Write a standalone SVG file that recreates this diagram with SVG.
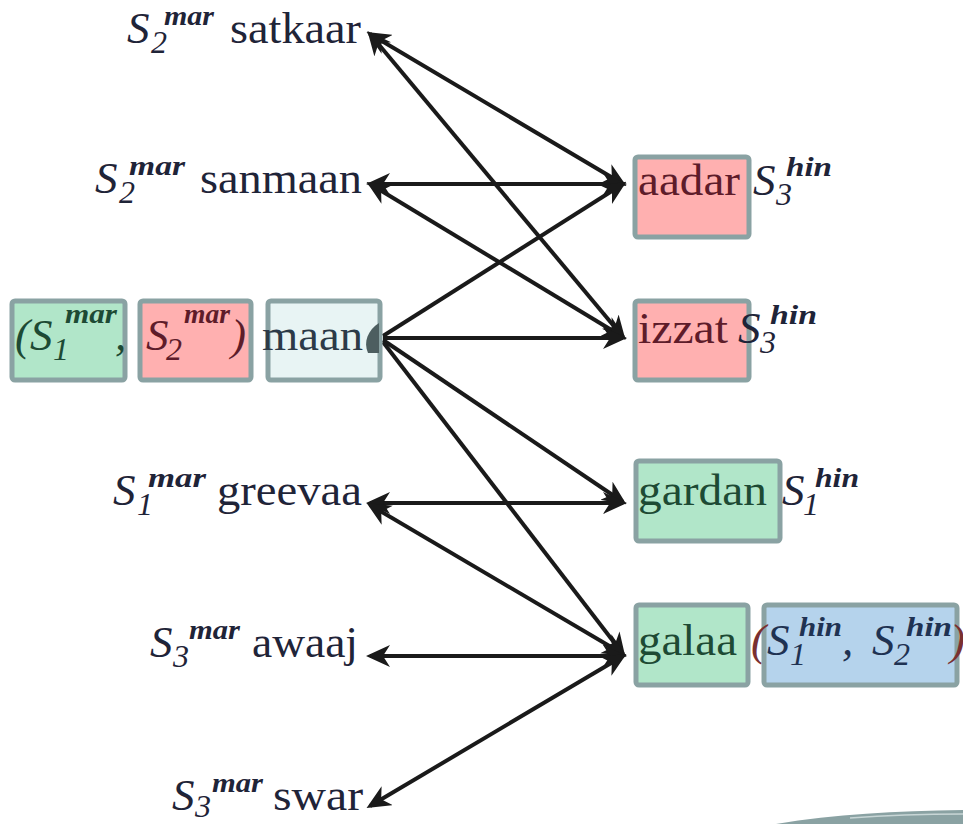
<svg xmlns="http://www.w3.org/2000/svg" width="963" height="824" viewBox="0 0 963 824">
<defs>
<style>
.w{font-family:"Liberation Serif","Times New Roman",serif;font-size:45px;fill:#1f2438}
.s{font-family:"Liberation Serif","Times New Roman",serif;font-size:45px;font-style:italic;fill:#1f2438}
.sb{font-family:"Liberation Serif","Times New Roman",serif;font-size:32px;font-style:italic;fill:#1f2438}
.sp{font-family:"Liberation Serif","Times New Roman",serif;font-size:27px;font-style:italic;font-weight:bold;fill:#1f2438}
.g{fill:#1d4a34}
.r{fill:#5e1c2a}
.b{fill:#1f3252}
.box{stroke:#8aa2a3;stroke-width:5}
.conn{stroke:#1a1a1a;stroke-width:4;fill:none}
</style>
<marker id="ah" viewBox="0 0 24 22" refX="20" refY="11" markerWidth="24" markerHeight="22" markerUnits="userSpaceOnUse" orient="auto-start-reverse">
<path d="M0,0 L24,11 L0,22 L7,11 Z" fill="#1a1a1a"/>
</marker>
</defs>
<rect width="963" height="824" fill="#ffffff"/>

<g id="connectors">
<line class="conn" x1="370" y1="34" x2="623" y2="184" marker-start="url(#ah)" marker-end="url(#ah)"/>
<line class="conn" x1="370" y1="34" x2="623" y2="337" marker-start="url(#ah)" marker-end="url(#ah)"/>
<line class="conn" x1="370" y1="184" x2="623" y2="184" marker-start="url(#ah)" marker-end="url(#ah)"/>
<line class="conn" x1="370" y1="184" x2="623" y2="337" marker-start="url(#ah)" marker-end="url(#ah)"/>
<line class="conn" x1="383" y1="336" x2="623" y2="184" marker-end="url(#ah)"/>
<line class="conn" x1="383" y1="338" x2="623" y2="338" marker-end="url(#ah)"/>
<line class="conn" x1="383" y1="340" x2="623" y2="502" marker-end="url(#ah)"/>
<line class="conn" x1="383" y1="342" x2="623" y2="654" marker-end="url(#ah)"/>
<line class="conn" x1="370" y1="503" x2="623" y2="503" marker-start="url(#ah)" marker-end="url(#ah)"/>
<line class="conn" x1="370" y1="505" x2="623" y2="654" marker-start="url(#ah)" marker-end="url(#ah)"/>
<line class="conn" x1="370" y1="656" x2="623" y2="656" marker-start="url(#ah)" marker-end="url(#ah)"/>
<line class="conn" x1="370" y1="806" x2="623" y2="656" marker-start="url(#ah)" marker-end="url(#ah)"/>
</g>

<g id="satkaar">
<text class="s" x="127" y="43">S</text>
<text class="sb" x="151" y="53">2</text>
<text class="sp" x="164" y="25" textLength="50" lengthAdjust="spacingAndGlyphs">mar</text>
<text class="w" x="230" y="43" textLength="131" lengthAdjust="spacingAndGlyphs">satkaar</text>
</g>

<g id="sanmaan">
<text class="s" x="95" y="193">S</text>
<text class="sb" x="119" y="203">2</text>
<text class="sp" x="129" y="175" textLength="56" lengthAdjust="spacingAndGlyphs">mar</text>
<text class="w" x="200" y="193" textLength="162" lengthAdjust="spacingAndGlyphs">sanmaan</text>
</g>

<g id="maan">
<rect class="box" x="12" y="301" width="113" height="79" rx="3" fill="#b1e6c9"/>
<rect class="box" x="140" y="301" width="111" height="79" rx="3" fill="#ffb0b0"/>
<rect class="box" x="268" y="301" width="112" height="79" rx="3" fill="#e8f4f4"/>
<text class="s g" x="15" y="350">(</text>
<text class="s g" x="30" y="350">S</text>
<text class="sb g" x="53" y="360">1</text>
<text class="sp g" x="65" y="323" textLength="52" lengthAdjust="spacingAndGlyphs">mar</text>
<text class="s g" x="115" y="350">,</text>
<text class="s r" x="146" y="350">S</text>
<text class="sb r" x="166" y="360">2</text>
<text class="sp r" x="184" y="323" textLength="46" lengthAdjust="spacingAndGlyphs">mar</text>
<text class="s r" x="231" y="350">)</text>
<text class="w" x="262" y="350" textLength="101" lengthAdjust="spacingAndGlyphs" style="fill:#2c3a48">maan</text>
<path d="M379,323 C368,330 363,342 368,353 L379,353 Z" fill="#4d5e60"/>
</g>

<g id="greevaa">
<text class="s" x="113" y="505">S</text>
<text class="sb" x="137" y="515">1</text>
<text class="sp" x="148" y="487" textLength="58" lengthAdjust="spacingAndGlyphs">mar</text>
<text class="w" x="217" y="505" textLength="145" lengthAdjust="spacingAndGlyphs">greevaa</text>
</g>

<g id="awaaj">
<text class="s" x="150" y="657">S</text>
<text class="sb" x="173" y="667">3</text>
<text class="sp" x="189" y="639" textLength="51" lengthAdjust="spacingAndGlyphs">mar</text>
<text class="w" x="252" y="657" textLength="106" lengthAdjust="spacingAndGlyphs">awaaj</text>
</g>

<g id="swar">
<text class="s" x="172" y="810">S</text>
<text class="sb" x="195" y="817">3</text>
<text class="sp" x="212" y="792" textLength="51" lengthAdjust="spacingAndGlyphs">mar</text>
<text class="w" x="273" y="810" textLength="90" lengthAdjust="spacingAndGlyphs">swar</text>
</g>

<g id="aadar">
<rect class="box" x="635" y="157" width="114" height="80" rx="3" fill="#ffb0b0"/>
<text class="w r" x="638" y="195" textLength="102" lengthAdjust="spacingAndGlyphs">aadar</text>
<text class="s" x="753" y="195">S</text>
<text class="sb" x="776" y="205">3</text>
<text class="sp" x="786" y="176" textLength="46" lengthAdjust="spacingAndGlyphs">hin</text>
</g>

<g id="izzat">
<rect class="box" x="635" y="301" width="114" height="79" rx="3" fill="#ffb0b0"/>
<text class="w r" x="638" y="343" textLength="90" lengthAdjust="spacingAndGlyphs">izzat</text>
<text class="s" x="738" y="343">S</text>
<text class="sb" x="760" y="353">3</text>
<text class="sp" x="770" y="324" textLength="47" lengthAdjust="spacingAndGlyphs">hin</text>
</g>

<g id="gardan">
<rect class="box" x="636" y="461" width="144" height="80" rx="3" fill="#b1e6c9"/>
<text class="w g" x="638" y="505" textLength="129" lengthAdjust="spacingAndGlyphs">gardan</text>
<text class="s" x="782" y="505">S</text>
<text class="sb" x="803" y="515">1</text>
<text class="sp" x="815" y="487" textLength="44" lengthAdjust="spacingAndGlyphs">hin</text>
</g>

<g id="galaa">
<rect class="box" x="636" y="605" width="112" height="80" rx="3" fill="#b1e6c9"/>
<rect class="box" x="764" y="605" width="193" height="80" rx="3" fill="#b5d3ec"/>
<text class="w g" x="638" y="655" textLength="99" lengthAdjust="spacingAndGlyphs">galaa</text>
<text class="s" x="751" y="655" style="fill:#7a3030">(</text>
<text class="s b" x="767" y="655">S</text>
<text class="sb b" x="790" y="665">1</text>
<text class="sp b" x="799" y="636" textLength="43" lengthAdjust="spacingAndGlyphs">hin</text>
<text class="s b" x="842" y="655">,</text>
<text class="s b" x="872" y="655">S</text>
<text class="sb b" x="894" y="665">2</text>
<text class="sp b" x="906" y="636" textLength="46" lengthAdjust="spacingAndGlyphs">hin</text>
<text class="s" x="950" y="655" style="fill:#7a3030">)</text>
</g>

<path d="M776,824 C835,814 895,811 963,810 L963,824 Z" fill="#8aa2a3"/>
<path d="M850,818 C890,815 925,814 963,814" stroke="#c8d6d6" stroke-width="1.5" fill="none"/>
</svg>
